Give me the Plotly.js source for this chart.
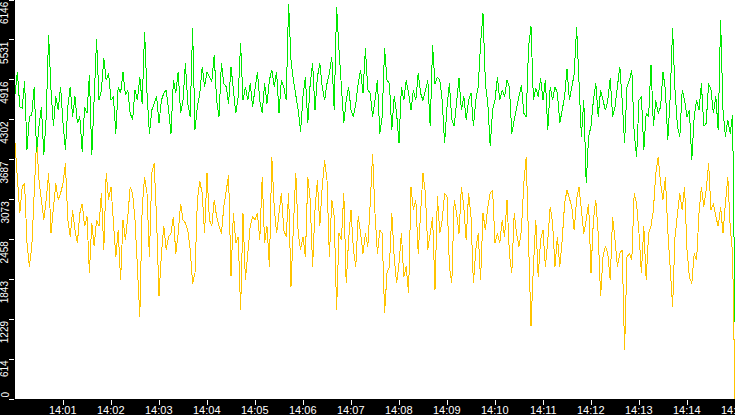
<!DOCTYPE html>
<html>
<head>
<meta charset="utf-8">
<script src="https://cdn.plot.ly/plotly-3.0.1.min.js"></script>
<style>
  html, body { margin: 0; padding: 0; background: #000; }
  #chart { width: 735px; height: 415px; }
  .scatterlayer path.js-line { shape-rendering: crispEdges; }
</style>
</head>
<body>
<div id="chart"></div>
<script>
// one sample every 3 seconds, 14:00:00 -> 14:15:00
var startTime = '2024-01-01 14:00:00';
var endTime = '2024-01-01 14:15:00';
var stepSeconds = 3;

var greenValues = [
  4690,5040,4500,4480,4900,3840,4350,4380,4810,3810,
  4200,4500,3760,4350,5610,4760,4200,4660,4450,4810,
  4250,3840,4500,4810,4350,4660,4250,4350,3810,4500,
  4400,4990,3760,4550,5540,4600,4760,5250,4910,5020,
  4600,4660,4090,4810,4710,5040,4680,4760,4400,4300,
  4760,4600,4960,4550,5660,4710,4090,4450,4550,4660,
  4250,4600,4710,4760,4450,4090,4910,4710,5040,4400,
  4600,5170,4550,4350,5710,
  4150,4500,4710,5120,4810,5040,4960,4890,5300,4600,
  4350,5170,4860,4810,4550,5120,4760,4400,4660,5480,
  4600,4810,4600,4860,4500,4790,5040,4600,4400,4860,
  4550,4910,5070,4810,5040,4400,4910,4810,4600,6090,
  5220,4910,4710,4450,4120,4660,4960,4250,4860,5170,
  4450,4960,5170,4810,4600,4860,5020,5270,4450,6040,
  5380,4760,4250,4600,4810,4450,4350,4550,4860,5070,
  4710,5400,4760,4710,4350,
  4600,4910,4090,4350,5400,4910,4860,4140,4660,4400,
  3940,4810,4600,4910,4710,4450,4760,4600,5020,4710,
  4600,4760,4910,4200,5450,4860,4960,4910,4600,3940,
  4500,4860,4300,4200,4600,4940,4450,4660,4300,4600,
  4710,4200,4600,4810,5480,5940,4860,4550,3890,4450,
  4600,4960,4600,4760,4660,4910,4810,4090,4300,4500,
  4660,4840,4400,4350,5430,5740,4600,4790,4660,4940,
  4600,4910,4140,4810,4600,
  4810,4710,4250,4450,4660,5090,4600,4810,5000,5730,
  4760,4040,4600,3320,4040,4200,4600,4860,4350,4760,
  4600,4450,4600,4940,4350,4500,4810,5120,4600,3940,
  4810,4910,5070,4090,3730,4600,4660,3840,4400,4350,
  5150,4200,4600,4400,4500,5040,4760,3990,4660,5710,
  4760,4200,4040,4760,4600,4350,4450,3680,4350,4600,
  4450,4860,4200,4250,4860,4760,4400,4660,4140,5840,
  4450,4040,4300,4090,4380,
  1190
];

var yellowValues = [
  3940,3420,2860,3270,3320,2400,2040,2350,3070,3990,
  3370,3070,2760,3070,3480,2550,2960,3320,3070,3170,
  3320,3630,2760,2500,2910,2600,2400,2860,3010,2660,
  2810,1940,2710,2350,2760,2660,3170,2300,3480,3070,
  3270,2760,2190,2600,1830,2760,2450,2810,3270,3170,
  2760,2040,1270,2960,3420,3170,2190,3480,3630,2760,
  1580,2240,2660,2300,2500,2550,2810,2240,2550,3010,
  2760,2710,2600,2300,1780,
  1940,3070,3350,3170,2550,3480,2760,2660,3070,2810,
  2660,2550,2960,3220,3450,1890,2860,2400,2500,1370,
  2860,1830,2240,2660,2810,2760,2860,2450,3420,2400,
  2660,2040,3730,2960,2550,2860,3170,2600,2500,3170,
  1730,2660,3480,2550,2300,2500,2190,3420,3070,2040,
  2910,3370,2660,3270,3680,3370,2190,3070,2810,1370,
  2550,2450,3170,1780,2450,2910,2300,2040,2810,2550,
  2240,2550,2350,3010,3780,
  2860,2240,2600,2550,1320,1940,2040,2860,2190,1780,
  2090,2550,1880,2040,1630,3270,2910,3070,2240,2860,
  3480,3170,2300,2550,2810,1680,3120,2550,2760,3170,
  3120,2040,1780,3070,2860,2550,3270,2960,2450,3170,
  2810,1780,2300,2550,1830,2860,2600,2960,3170,3220,
  2400,2550,2400,2760,2500,3070,2240,1940,2860,2550,
  2350,2600,3320,3730,2240,1120,2040,2760,1880,2450,
  2600,2040,2450,2960,2710,
  2040,2500,2040,2450,3010,3220,3070,2960,2600,3070,
  3270,2910,2550,2760,3010,1940,2760,3070,2550,1580,
  2190,2350,2240,1830,2810,2450,2040,2240,2300,756,
  2190,2240,2140,3170,3010,2550,1940,2660,1830,2550,
  2660,2910,3480,3730,3320,3070,3420,2600,1990,1420,
  2500,2810,3170,2910,3270,2300,1880,1780,2240,2140,
  2860,3270,2960,3220,3630,2910,3010,2810,2660,2960,
  2550,3010,3420,2660,2240,
  0
];

var yTickValues = [0, 614.6, 1229.2, 1843.8, 2458.4, 3073, 3687.6, 4302.2, 4916.8, 5531.4, 6146];
var yTickText = ['0','614','1229','1843','2458','3073','3687','4302','4916','5531','6146'];
var xTickText = ['14:01','14:02','14:03','14:04','14:05','14:06','14:07','14:08',
                 '14:09','14:10','14:11','14:12','14:13','14:14','14:15'];

function pad(n) { return (n < 10 ? '0' : '') + n; }
function timeAt(sec) {
  var h = 14 + Math.floor(sec / 3600), m = Math.floor(sec % 3600 / 60), s = sec % 60;
  return '2024-01-01 ' + pad(h) + ':' + pad(m) + ':' + pad(s);
}

var times = greenValues.map(function(v, i) { return timeAt(i * stepSeconds); });
var xTickVals = xTickText.map(function(t, i) { return timeAt((i + 1) * 60); });

var traceYellow = {
  x: times, y: yellowValues,
  type: 'scatter', mode: 'lines',
  line: {color: '#ffc400', width: 1},
  hoverinfo: 'skip'
};
var traceGreen = {
  x: times, y: greenValues,
  type: 'scatter', mode: 'lines',
  line: {color: '#00e800', width: 1},
  hoverinfo: 'skip'
};

var labelFont = {family: 'Liberation Sans', size: 11, color: '#fff'};

// y labels are drawn rotated, starting at the tick and running downwards
var yLabels = yTickText.map(function(t, i) {
  return {
    text: t, xref: 'paper', yref: 'y',
    x: 0, y: yTickValues[i], xshift: -4,
    xanchor: 'right', yanchor: i === 0 ? 'bottom' : 'top',
    textangle: -90, showarrow: false, borderpad: 0,
    font: {family: 'Liberation Sans', size: 10, color: '#fff'}
  };
});

// time labels sit just under the tick marks
var xLabels = xTickText.map(function(t, i) {
  return {
    text: t, xref: 'x', yref: 'paper',
    x: xTickVals[i], y: 0, yshift: -4,
    xanchor: 'center', yanchor: 'top',
    showarrow: false, borderpad: 0, font: labelFont
  };
});

var layout = {
  width: 735, height: 415,
  margin: {l: 15, r: 0, t: 0, b: 16, pad: 0},
  paper_bgcolor: '#000',
  plot_bgcolor: '#fff',
  showlegend: false,
  xaxis: {
    type: 'date',
    range: [startTime, endTime],
    tickmode: 'array', tickvals: xTickVals,
    showticklabels: false,
    ticks: 'outside', ticklen: 5, tickcolor: '#fff', tickwidth: 1,
    showgrid: false, zeroline: false, showline: false
  },
  yaxis: {
    range: [0, 6146],
    tickmode: 'array', tickvals: yTickValues,
    showticklabels: false,
    ticks: 'outside', ticklen: 5, tickcolor: '#fff', tickwidth: 1,
    showgrid: false, zeroline: false, showline: false
  },
  annotations: yLabels.concat(xLabels)
};

Plotly.newPlot('chart', [traceYellow, traceGreen], layout, {staticPlot: true, displayModeBar: false});
</script>
</body>
</html>
